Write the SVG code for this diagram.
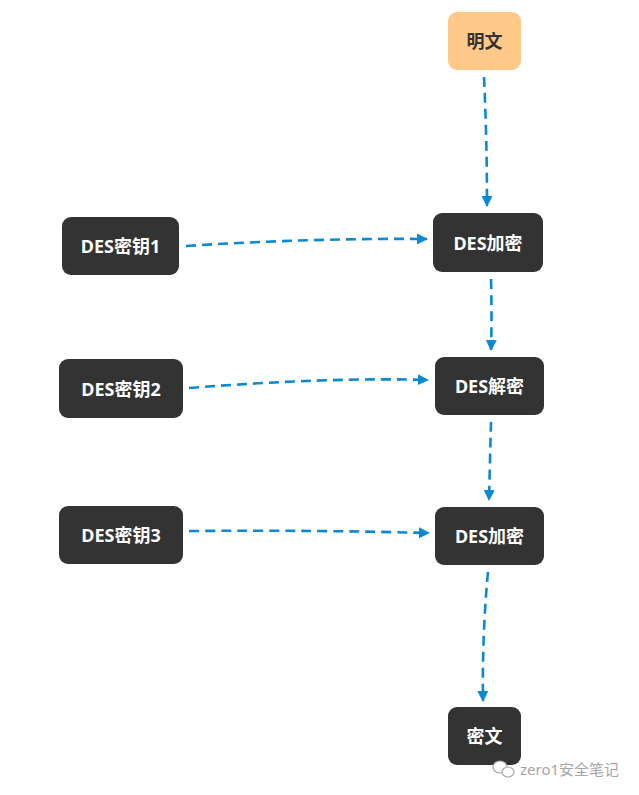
<svg xmlns="http://www.w3.org/2000/svg" width="639" height="795" viewBox="0 0 639 795">
<style>
.box{fill:#333333}
.start{fill:#ffc98a}
.t{font-family:"Noto Sans","Noto Sans CJK SC",sans-serif;font-weight:bold;font-size:18px;text-anchor:middle;dominant-baseline:central;fill:#ffffff}
.td{fill:#333333}
.c{fill:none;stroke:#0a89d2;stroke-width:2.6;stroke-dasharray:10 6}
.wm{font-family:"Noto Sans","Noto Sans CJK SC",sans-serif;font-size:15px;fill:#a6a6a6}
</style>
<defs>
<marker id="ah" markerWidth="12" markerHeight="12" refX="10" refY="6" orient="auto" markerUnits="userSpaceOnUse">
<path d="M0,0.5 L11,6 L0,11.5 Z" fill="#0a89d2"/>
</marker>
</defs>
<rect width="639" height="795" fill="#ffffff"/>
<g id="connectors">
<path class="c" d="M484,77 Q487,140 487,206" marker-end="url(#ah)"/>
<path class="c" d="M186,246 Q310,238 427,239" marker-end="url(#ah)"/>
<path class="c" d="M491,279 Q492,315 491,350" marker-end="url(#ah)"/>
<path class="c" d="M189,388 Q330,377 428,380" marker-end="url(#ah)"/>
<path class="c" d="M491,422 Q490,460 489,500" marker-end="url(#ah)"/>
<path class="c" d="M189,531 Q320,530 429,533" marker-end="url(#ah)"/>
<path class="c" d="M488,572 Q482,635 483,701" marker-end="url(#ah)"/>
</g>
<g id="plaintext"><rect class="start" x="448" y="12" width="73" height="58" rx="9"/><text class="t td" x="484.5" y="41">明文</text></g>
<g id="key1"><rect class="box" x="62" y="217" width="117" height="58" rx="9"/><text class="t" x="120.5" y="246">DES密钥1</text></g>
<g id="enc1"><rect class="box" x="433" y="213" width="110" height="59" rx="9"/><text class="t" x="488" y="242.5">DES加密</text></g>
<g id="key2"><rect class="box" x="59" y="359" width="124" height="59" rx="9"/><text class="t" x="121" y="388.5">DES密钥2</text></g>
<g id="dec"><rect class="box" x="435" y="357" width="109" height="58" rx="9"/><text class="t" x="489.5" y="386">DES解密</text></g>
<g id="key3"><rect class="box" x="59" y="506" width="124" height="58" rx="9"/><text class="t" x="121" y="535">DES密钥3</text></g>
<g id="enc2"><rect class="box" x="435" y="507" width="109" height="58" rx="9"/><text class="t" x="489.5" y="536">DES加密</text></g>
<g id="ciphertext"><rect class="box" x="448" y="707" width="73" height="58" rx="9"/><text class="t" x="484.5" y="736">密文</text></g>
<g id="watermark">
<ellipse cx="500" cy="767" rx="7" ry="6" fill="#ffffff" stroke="#a6a6a6" stroke-width="1.2"/>
<ellipse cx="508" cy="772" rx="6" ry="5" fill="#ffffff" stroke="#a6a6a6" stroke-width="1.2"/>
<text class="wm" x="520" y="775">zero1安全笔记</text>
</g>
</svg>
